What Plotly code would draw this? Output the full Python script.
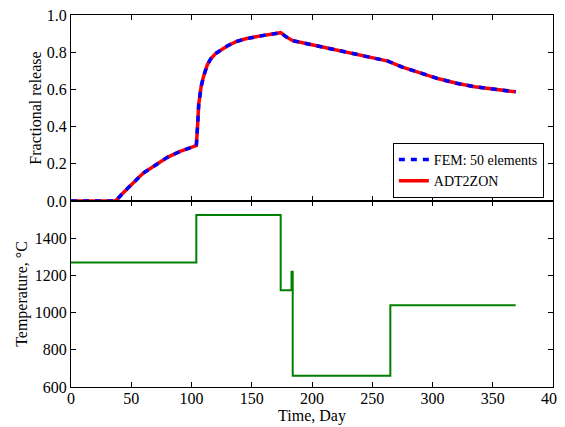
import plotly.graph_objects as go
from plotly.subplots import make_subplots

# Fractional release (both models overlap)
release_days = [0, 37, 42, 47, 52, 60, 70, 80, 90, 104, 105, 106, 108, 110, 113, 116, 120,
                124, 130, 137, 145, 155, 165, 174, 178, 184, 200, 220, 240, 263, 275, 290,
                305, 320, 335, 350, 369]
release_fem = [0.0, 0.0, 0.035, 0.07, 0.10, 0.15, 0.195, 0.235, 0.265, 0.298, 0.40, 0.52,
               0.615, 0.67, 0.73, 0.765, 0.793, 0.812, 0.835, 0.857, 0.872, 0.885, 0.895,
               0.905, 0.885, 0.862, 0.840, 0.812, 0.784, 0.752, 0.72, 0.688, 0.657, 0.633,
               0.614, 0.602, 0.587]
release_adt = list(release_fem)

# Temperature history (step function)
temp_days = [0, 104, 174, 183, 184, 265, 369]
temp_values = [1270, 1525, 1120, 1220, 660, 1040, 1040]

x_ticks = [0, 50, 100, 150, 200, 250, 300, 350, 400]
rel_ticks = [0.0, 0.2, 0.4, 0.6, 0.8, 1.0]
temp_ticks = [600, 800, 1000, 1200, 1400]

FONT = "Liberation Serif"

fig = make_subplots(rows=2, cols=1, shared_xaxes=True, vertical_spacing=0)

fig.add_trace(go.Scatter(x=release_days, y=release_adt, mode="lines", name="ADT2ZON",
                         line=dict(color="#ff0000", width=3.5), legendrank=2), row=1, col=1)
fig.add_trace(go.Scatter(x=release_days, y=release_fem, mode="lines", name="FEM: 50 elements",
                         line=dict(color="#0000ff", width=3.5, dash="6px,6px"), legendrank=1),
              row=1, col=1)
fig.add_trace(go.Scatter(x=temp_days, y=temp_values, mode="lines", line_shape="hv",
                         line=dict(color="#008000", width=2), showlegend=False), row=2, col=1)

tick_font = dict(family=FONT, size=16, color="black")
axis_common = dict(showline=True, linecolor="black", linewidth=1, mirror="ticks",
                   ticks="inside", ticklen=5, tickcolor="black", showgrid=False,
                   zeroline=False, ticklabeloverflow="allow")

fig.update_xaxes(range=[0, 400], tickvals=x_ticks, tickfont=tick_font, **axis_common)
fig.update_xaxes(showticklabels=False, row=1, col=1)
fig.update_xaxes(ticktext=[str(v) for v in x_ticks], ticklabelstandoff=-3,
                 title=dict(text="Time, Day", font=dict(family=FONT, size=16, color="black"),
                            standoff=0), row=2, col=1)
fig.update_yaxes(range=[0, 1.0], tickvals=rel_ticks, ticktext=["%.1f" % v for v in rel_ticks],
                 tickfont=tick_font,
                 title=dict(text="Fractional release", font=dict(family=FONT, size=16, color="black"),
                            standoff=1), row=1, col=1, **axis_common)
fig.update_yaxes(range=[600, 1600], tickvals=temp_ticks, ticktext=[str(v) for v in temp_ticks],
                 tickfont=tick_font,
                 title=dict(text="Temperature, °C", font=dict(family=FONT, size=16, color="black"),
                            standoff=3), row=2, col=1, **axis_common)

# page has an 8px body margin; margins are shifted so the axes land where the reference has them
fig.update_layout(
    width=565, height=427,
    margin=dict(l=63, r=20, t=7, b=48, autoexpand=False),
    paper_bgcolor="white", plot_bgcolor="white",
    font=dict(family=FONT, size=16, color="black"),
    legend=dict(x=0.981, y=0.508, xanchor="right", yanchor="bottom",
                bordercolor="black", borderwidth=1, bgcolor="white",
                font=dict(family=FONT, size=14, color="black"),
                tracegroupgap=0, itemwidth=30),
)

fig.write_html("out.html")
